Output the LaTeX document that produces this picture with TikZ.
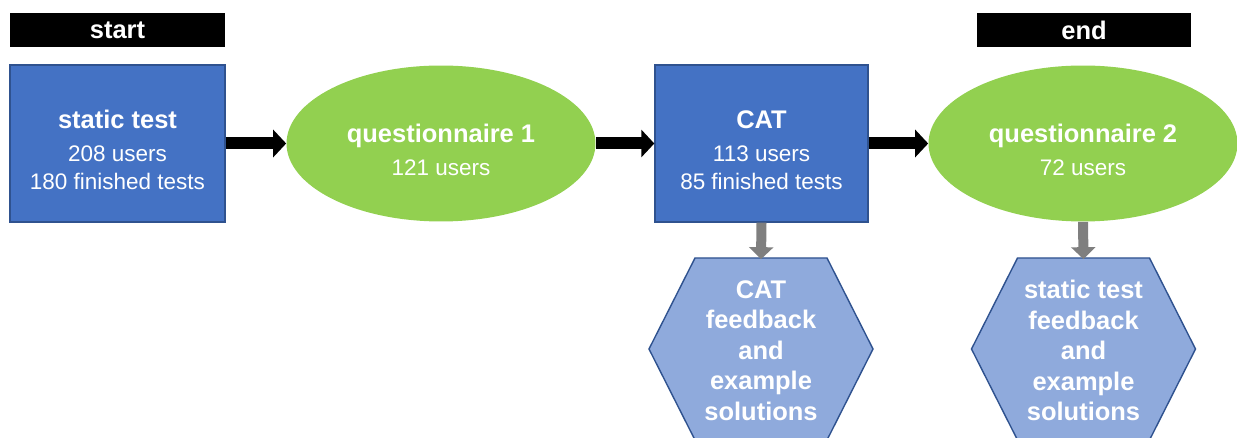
\documentclass[tikz,border=0pt]{standalone}
\usepackage{fontspec}
\setmainfont{Liberation Sans}
\usetikzlibrary{shapes.geometric, arrows.meta, positioning, calc}

\definecolor{boxblue}{HTML}{4472C4}
\definecolor{edgeblue}{HTML}{2F528F}
\definecolor{qgreen}{HTML}{92D050}
\definecolor{hexblue}{HTML}{8FAADC}
\definecolor{arrowgray}{HTML}{7F7F7F}

\newcommand{\stagehead}[1]{{\bfseries\fontsize{14.5}{17}\selectfont\rule{0pt}{17.5pt}#1}\\[3pt]}

\begin{document}
\begin{tikzpicture}[
    x=0.02cm, y=-0.02cm,
    stage/.style={draw=edgeblue, fill=boxblue, line width=0.8pt, minimum width=4.3cm, minimum height=3.14cm, align=center, text=white, font=\fontsize{12.8}{16}\selectfont},
    survey/.style={ellipse, fill=qgreen, inner sep=0pt, minimum width=6.18cm, minimum height=3.12cm, align=center, text=white, font=\fontsize{12.8}{16}\selectfont},
    tag/.style={fill=black, minimum width=4.3cm, minimum height=0.68cm, inner sep=0pt, text=white, font=\bfseries\fontsize{14.5}{16}\selectfont},
    hexlabel/.style={minimum width=4.48cm, minimum height=3.64cm, inner sep=0pt, align=center, text=white, font=\bfseries\fontsize{14.5}{17.4}\selectfont},
    hexline/.style={draw=edgeblue, fill=hexblue, line width=0.8pt},
    flow/.style={-{Triangle[length=0.26cm, width=0.54cm]}, line width=0.24cm},
    feed/.style={-{Triangle[length=0.24cm, width=0.48cm]}, line width=0.2cm, draw=arrowgray, fill=arrowgray}
]
\useasboundingbox (0,0) rectangle (1237,438);

\node[tag] (start) at (117.5,30.5) {start};
\node[tag] (finish) at (1084,30.5) {end};

\node[stage] (static) at (117.5,143.5) {\stagehead{static test}208 users\\180 finished tests};
\node[survey] (quest1) at (441,143.5) {\stagehead{questionnaire 1}121 users};
\node[stage, minimum width=4.26cm] (cat) at (761.5,143.5) {\stagehead{CAT}113 users\\85 finished tests};
\node[survey] (quest2) at (1083,143.5) {\stagehead{questionnaire 2}72 users};

\draw[flow] (static) -- (quest1);
\draw[flow] (quest1) -- (cat);
\draw[flow] (cat) -- (quest2);

% feedback hexagons
\coordinate (catmid) at (761,349);
\draw[hexline] ($(catmid)+(-66,-91)$) -- ++(132,0) -- ++(46,91) -- ++(-46,91) -- ++(-132,0) -- ++(-46,-91) -- cycle;
\node[hexlabel] (fbcat) at ($(catmid)+(0,1.5)$) {CAT\\feedback\\and\\example\\solutions};

\coordinate (statmid) at (1083.5,349);
\draw[hexline] ($(statmid)+(-66,-91)$) -- ++(132,0) -- ++(46,91) -- ++(-46,91) -- ++(-132,0) -- ++(-46,-91) -- cycle;
\node[hexlabel] (fbstat) at ($(statmid)+(0,1.5)$) {static test\\feedback\\and\\example\\solutions};

\draw[feed] (cat.south) -- (fbcat.north);
\draw[feed] (quest2.south) -- (fbstat.north);

\end{tikzpicture}
\end{document}
